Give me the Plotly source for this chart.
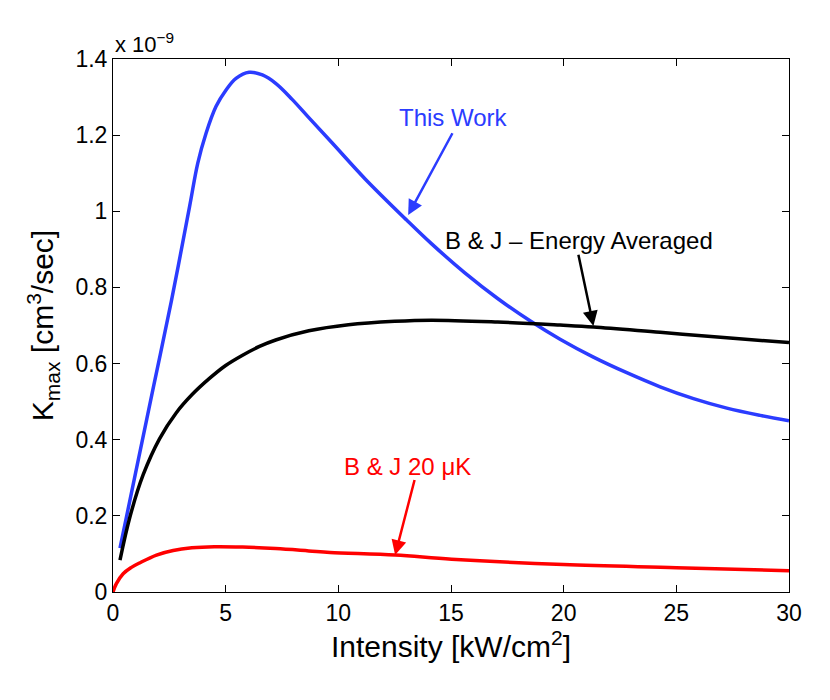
import plotly.graph_objects as go

# values in units of 1e-9 cm^3/sec
blue_x = [0.31, 1.0, 1.8, 2.59, 3.4, 3.76, 4.13, 4.57, 5.01, 5.46, 6.04, 6.63, 7.22, 7.95, 8.69,
          9.72, 11.19, 13.03, 14.13, 15.6, 17.07, 18.54, 19.84, 21.32, 22.8, 24.28, 25.76, 27.24,
          28.72, 30]
blue_y = [0.115, 0.312, 0.54, 0.764, 1.013, 1.126, 1.205, 1.275, 1.318, 1.349, 1.365, 1.358,
          1.336, 1.294, 1.246, 1.180, 1.085, 0.977, 0.915, 0.839, 0.771, 0.711, 0.664, 0.617,
          0.576, 0.539, 0.508, 0.483, 0.464, 0.45]

black_x = [0.31, 0.75, 1.34, 2.07, 2.81, 3.5, 4.28, 5.0, 5.75, 6.5, 7.22, 8.69, 10.45, 12.5,
           14.13, 17.07, 19.84, 21.32, 24.28, 27.24, 30]
black_y = [0.084, 0.197, 0.308, 0.403, 0.471, 0.518, 0.561, 0.595, 0.622, 0.645, 0.662, 0.686,
           0.702, 0.711, 0.714, 0.709, 0.701, 0.696, 0.682, 0.668, 0.655]

red_x = [0, 0.15, 0.45, 0.8, 1.2, 1.93, 2.67, 3.5, 4.5, 5.75, 7.22, 8.69, 9.63, 12.52, 15.03,
         19.99, 25.0, 30]
red_y = [0, 0.022, 0.048, 0.064, 0.077, 0.097, 0.109, 0.116, 0.119, 0.118, 0.114, 0.108, 0.104,
         0.097, 0.086, 0.072, 0.064, 0.056]

x_ticks = [0, 5, 10, 15, 20, 25, 30]
y_ticks = [0, 0.2, 0.4, 0.6, 0.8, 1.0, 1.2, 1.4]
y_tick_text = ["0", "0.2", "0.4", "0.6", "0.8", "1", "1.2", "1.4"]

BLUE = "#2b3cff"
FONT = "Liberation Sans, Arial, sans-serif"

fig = go.Figure()
for xs, ys, color in [(blue_x, blue_y, BLUE), (black_x, black_y, "black"), (red_x, red_y, "red")]:
    fig.add_trace(go.Scatter(x=xs, y=ys, mode="lines",
                             line=dict(color=color, width=3.5, shape="spline", smoothing=1.0)))

axis_common = dict(
    showline=True, linecolor="black", linewidth=1, mirror="ticks",
    ticks="inside", ticklen=7, tickcolor="black", tickwidth=1,
    showgrid=False, zeroline=False,
    tickfont=dict(size=23, color="black", family=FONT),
)

fig.update_layout(
    width=830, height=700,
    margin=dict(l=105, r=49, t=51, b=116),
    plot_bgcolor="white", paper_bgcolor="white",
    showlegend=False,
    font=dict(family=FONT, color="black"),
    xaxis=dict(range=[0, 30], tickvals=x_ticks,
               title=dict(text="Intensity [kW/cm<sup>2</sup>]", font=dict(size=30), standoff=8),
               **axis_common),
    yaxis=dict(range=[0, 1.4], tickvals=y_ticks, ticktext=y_tick_text,
               title=dict(text="K<sub>max</sub> [cm<sup>3</sup>/sec]", font=dict(size=30), standoff=12),
               **axis_common),
)

# exponent label above the axis
fig.add_annotation(xref="paper", yref="paper", x=0, y=1, xanchor="left", yanchor="bottom",
                   text="x 10<sup>−9</sup>", showarrow=False, font=dict(size=22), yshift=0)

# labels with arrows: text, text x, text y, colour, tail x, tail y, tip x, tip y
labels = [
    ("This Work", 15.13, 1.246, BLUE, 15.1, 1.209, 13.1, 0.99),
    ("B & J – Energy Averaged", 20.68, 0.924, "black", 20.64, 0.89, 21.32, 0.699),
    ("B & J 20 μK", 13.09, 0.33, "red", 13.4, 0.298, 12.52, 0.097),
]
for text, tx, ty, color, ax, ay, px_, py_ in labels:
    fig.add_annotation(x=tx, y=ty, text=text, showarrow=False, font=dict(size=24, color=color))
    fig.add_annotation(x=px_, y=py_, ax=ax, ay=ay, axref="x", ayref="y", text="",
                       showarrow=True, arrowhead=2, arrowsize=1.2, arrowwidth=2.5, arrowcolor=color)

fig.write_html("out.html")
